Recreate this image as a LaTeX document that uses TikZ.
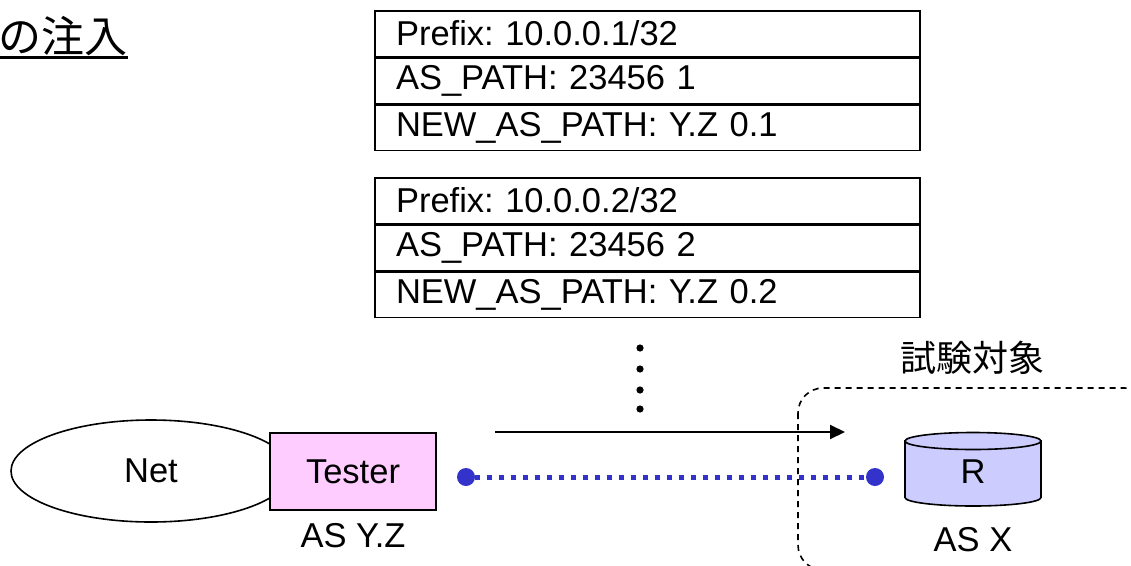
\documentclass[tikz,border=0pt]{standalone}
\definecolor{testerpink}{rgb}{1.0, 0.8, 1.0}
\definecolor{routerblue}{rgb}{0.8, 0.8, 1.0}
\definecolor{linkblue}{rgb}{0.2, 0.2, 0.8}
\usepackage{fontspec}
\setmainfont{Liberation Sans}
\newfontfamily\jpfont{Noto Sans CJK JP}
\usepackage{tikz}
\usetikzlibrary{arrows.meta}
\usetikzlibrary{positioning, shapes.geometric}
\frenchspacing

\begin{document}
\begin{tikzpicture}[>=Stealth, x=1pt, y=-1pt]
	\useasboundingbox (0,0) rectangle (1131,565);

	% ------------------------------------------------------------------
	% STYLE DEFINITIONS
	% ------------------------------------------------------------------
	\tikzset{
		txt/.style     = {font=\fontsize{34.5}{40}\selectfont},
		row/.style     = {txt, draw, line width=1.6pt, rectangle, minimum width=545pt,
		                  minimum height=45.5pt, text width=503pt, inner xsep=21pt,
		                  inner ysep=0pt, align=left},
		netcloud/.style = {txt, ellipse, draw, line width=1.6pt, minimum width=280pt,
		                  minimum height=102pt, inner sep=0pt},
		tester/.style  = {txt, draw, line width=1.6pt, fill=testerpink,
		                  minimum width=166pt, minimum height=77pt},
		router/.style  = {txt, minimum width=136pt, minimum height=68pt, inner sep=0pt},
		drum/.style    = {draw, line width=1.6pt, fill=routerblue},
		aslabel/.style = {txt, inner sep=2pt},
		linkdot/.style = {circle, fill=linkblue, inner sep=0pt, minimum size=18pt},
		link/.style    = {linkblue, line width=5pt, dash pattern=on 5pt off 7pt},
		jptext/.style  = {font=\jpfont\fontsize{36}{42}\selectfont, inner sep=0pt},
	}

	% ------------------------------------------------------------------
	% TITLE
	% ------------------------------------------------------------------
	\node[font=\jpfont\fontsize{43}{48}\selectfont, inner sep=0pt, anchor=base east]
		(title) at (128,52) {の注入};
	\draw[line width=2.5pt] ([yshift=-5.5pt]title.base west) -- ([yshift=-5.5pt]title.base east);

	% ------------------------------------------------------------------
	% ROUTES
	% ------------------------------------------------------------------
	% 1.  10.0.0.1/32
	\node[row, anchor=north] (pfx1) at (647.5,10) {Prefix: 10.0.0.1/32};
	\node[row, below=0pt of pfx1] (path1) {AS\_PATH: 23456 1};
	\node[row, below=0pt of path1] (new1) {NEW\_AS\_PATH: Y.Z 0.1};

	% 2.  10.0.0.2/32
	\node[row, anchor=north] (pfx2) at (647.5,177) {Prefix: 10.0.0.2/32};
	\node[row, below=0pt of pfx2] (path2) {AS\_PATH: 23456 2};
	\node[row, below=0pt of path2] (new2) {NEW\_AS\_PATH: Y.Z 0.2};

	% more routes ...
	\foreach \y in {348,369,390,409}
		\fill (640,\y) circle (3.6pt);

	% ------------------------------------------------------------------
	% TARGET AREA
	% ------------------------------------------------------------------
	\draw[line width=1.6pt, dash pattern=on 6pt off 5pt, rounded corners=25pt]
		(798,388) rectangle (1150,570);
	\node[jptext] (target) at (972,358) {試験対象};

	% router drum
	\draw[drum] (905,441) -- (905,497.5) arc (180:0:68 and 8.5) -- (1041,441) -- cycle;
	\draw[drum] (973,441) ellipse (68 and 8.5);

	% ------------------------------------------------------------------
	% NODES & LINKS
	% ------------------------------------------------------------------
	\node[netcloud] (net) at (151,471) {Net};
	\node[tester, label={[aslabel, label distance=10pt]below:AS Y.Z}] (tester) at (353,471.5) {Tester};
	\node[router, label={[aslabel, label distance=19pt]below:AS X}] (rt) at (973,472) {R};

	\coordinate (send0) at (495,432);
	\coordinate (send1) at (845,432);
	\draw[line width=2pt, -{Triangle[length=15pt, width=14pt]}] (send0) -- (send1);

	\node[linkdot] (dotA) at (466,477) {};
	\node[linkdot] (dotB) at (875,477) {};
	\draw[link] (dotA) -- (dotB);

\end{tikzpicture}
\end{document}
